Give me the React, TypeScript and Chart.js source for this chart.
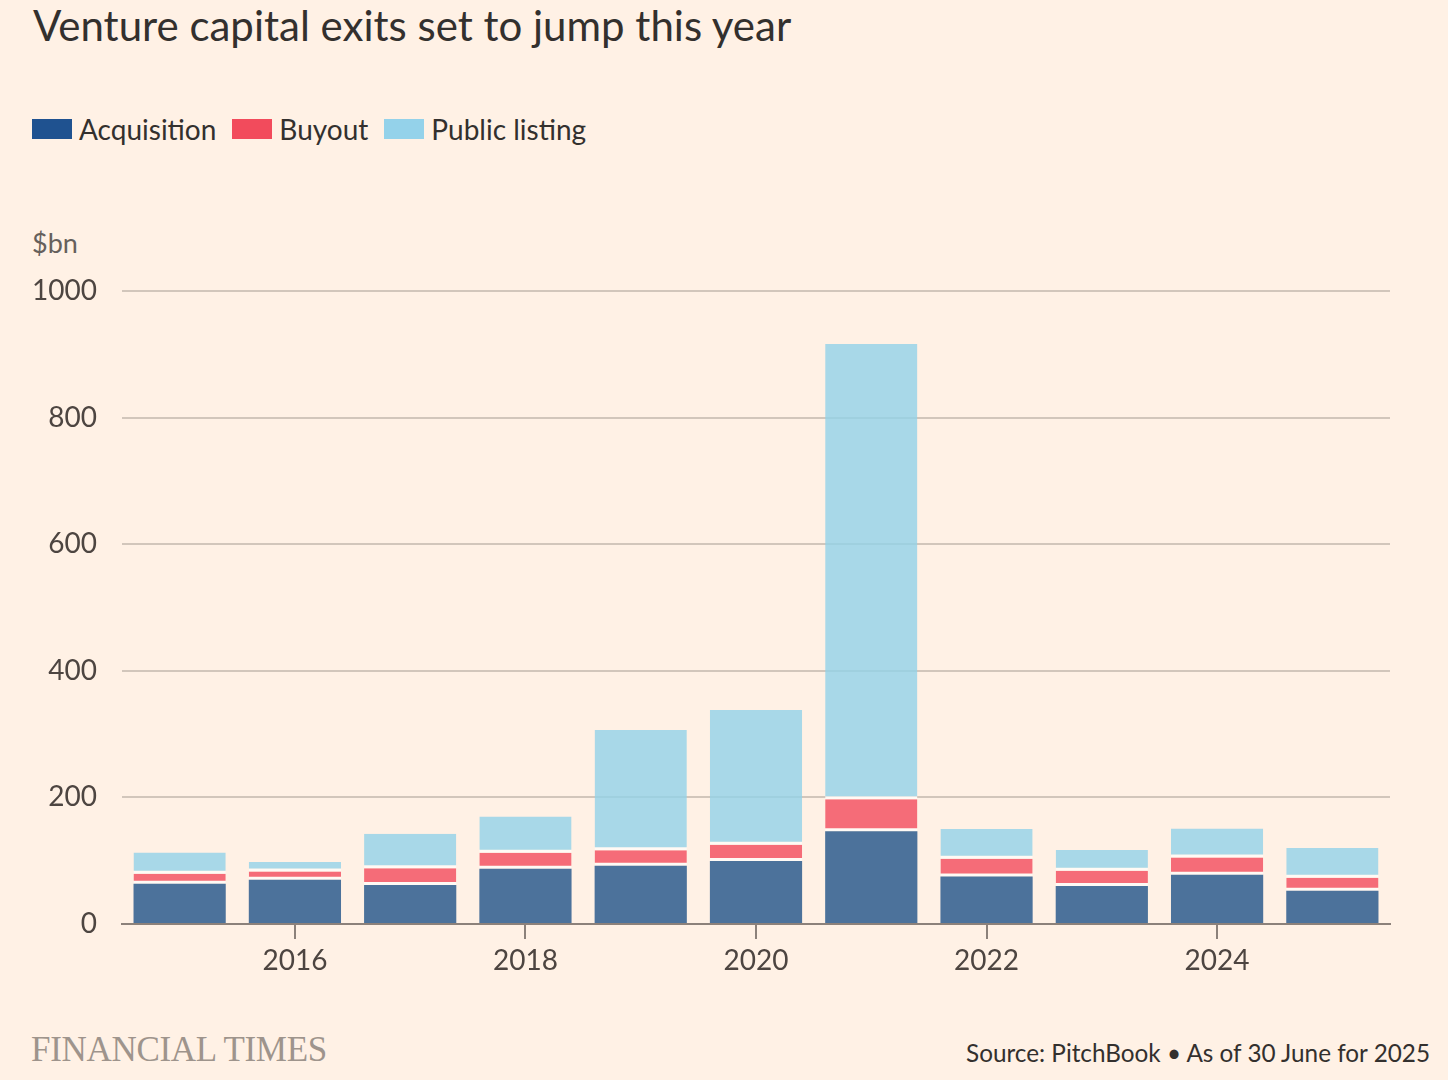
import React, { useEffect, useRef } from "react";
import { Chart, registerables } from "chart.js";

Chart.register(...registerables);

const years = ["2015", "2016", "2017", "2018", "2019", "2020", "2021", "2022", "2023", "2024", "2025"];
const acquisition = [63.7, 70, 61.5, 87.4, 92.1, 99.4, 146.7, 75.2, 60, 77.9, 52.7];
const buyout = [15.8, 13, 26.4, 25.2, 24.6, 25.8, 50.5, 27.9, 24.2, 27.3, 20.5];
const publicListing = [33.5, 14.8, 54.7, 57.3, 189.9, 213, 719, 46.9, 32.6, 45.8, 46.8];
const yTicks = [0, 200, 400, 600, 800, 1000];
const shownYears = ["2016", "2018", "2020", "2022", "2024"];

const BG = "#fff1e5";
const FONT = "Lato, 'Noto Sans', sans-serif";
const LEGEND = [
  { label: "Acquisition", color: "#1f5290" },
  { label: "Buyout", color: "#f24b5c" },
  { label: "Public listing", color: "#94d2ea" },
];

export default function App() {
  const ref = useRef<HTMLCanvasElement | null>(null);

  useEffect(() => {
    document.body.style.margin = "0";
    document.body.style.background = BG;
    const gap = "#fffaf5";
    const chart = new Chart(ref.current!, {
      type: "bar",
      data: {
        labels: years,
        datasets: [
          {
            label: "Acquisition",
            data: acquisition,
            backgroundColor: "rgba(31,82,136,0.8)",
            borderWidth: 0,
          },
          {
            label: "Buyout",
            data: buyout,
            backgroundColor: "rgba(242,75,92,0.8)",
            borderColor: gap,
            borderWidth: { top: 0, right: 0, bottom: 3, left: 0 },
            borderSkipped: false,
          },
          {
            label: "Public listing",
            data: publicListing,
            backgroundColor: "rgba(146,210,232,0.8)",
            borderColor: gap,
            borderWidth: { top: 0, right: 0, bottom: 3, left: 0 },
            borderSkipped: false,
          },
        ],
      },
      options: {
        animation: false,
        responsive: false,
        maintainAspectRatio: false,
        layout: { padding: { left: 30, right: 58, top: 61, bottom: 0 } },
        datasets: { bar: { barPercentage: 0.8, categoryPercentage: 1 } },
        plugins: { legend: { display: false }, tooltip: { enabled: false } },
        scales: {
          x: {
            stacked: true,
            offset: true,
            border: { display: true, color: "#8c817a", width: 2 },
            grid: {
              display: true,
              offset: false,
              drawOnChartArea: false,
              drawTicks: true,
              tickLength: 15,
              lineWidth: 2,
              color: (ctx: any) =>
                shownYears.includes(years[ctx.index]) ? "#8c817a" : "rgba(0,0,0,0)",
            },
            ticks: {
              autoSkip: false,
              maxRotation: 0,
              padding: 5,
              color: "#4d4541",
              font: { family: FONT, size: 28 },
              callback: (_v: any, i: number) => (shownYears.includes(years[i]) ? years[i] : ""),
            },
            afterFit: (s: any) => {
              s.height = 76;
            },
          },
          y: {
            stacked: true,
            min: 0,
            max: 1000,
            border: { display: false },
            grid: { color: "#d2c6bb", lineWidth: 2, drawTicks: false },
            afterBuildTicks: (s: any) => {
              s.ticks = yTicks.map((v) => ({ value: v }));
            },
            ticks: {
              padding: 25,
              color: "#4d4541",
              font: { family: FONT, size: 28 },
              callback: (v: any) => String(v),
            },
            afterFit: (s: any) => {
              s.width = 92;
            },
          },
        },
      },
    });
    return () => chart.destroy();
  }, []);

  return (
    <div style={{ position: "relative", width: 1448, height: 1080, background: BG, fontFamily: FONT, overflow: "hidden" }}>
      <div style={{ position: "absolute", left: 33, top: -1, fontSize: 42, color: "#33302e", lineHeight: "52px" }}>
        Venture capital exits set to jump this year
      </div>
      <div style={{ position: "absolute", left: 32, top: 112, display: "flex", alignItems: "center", fontSize: 28, color: "#33302e" }}>
        {LEGEND.map((l) => (
          <div key={l.label} style={{ display: "flex", alignItems: "center", marginRight: 16 }}>
            <span style={{ display: "inline-block", width: 40, height: 20, background: l.color, marginRight: 7 }} />
            <span>{l.label}</span>
          </div>
        ))}
      </div>
      <div style={{ position: "absolute", left: 32, top: 226, fontSize: 27, color: "#66605c" }}>$bn</div>
      <div style={{ position: "absolute", left: 0, top: 230, width: 1448, height: 770 }}>
        <canvas ref={ref} width={1448} height={770} style={{ width: 1448, height: 770 }} />
      </div>
      <div
        style={{
          position: "absolute",
          left: 31,
          top: 1030,
          fontFamily: "'Liberation Serif', 'DejaVu Serif', serif",
          fontSize: 35,
          color: "#9e948c",
          letterSpacing: -0.3,
          whiteSpace: "nowrap",
        }}
      >
        FINANCIAL TIMES
      </div>
      <div style={{ position: "absolute", right: 18, top: 1038, fontSize: 24.3, color: "#33302e" }}>
        Source: PitchBook • As of 30 June for 2025
      </div>
    </div>
  );
}
